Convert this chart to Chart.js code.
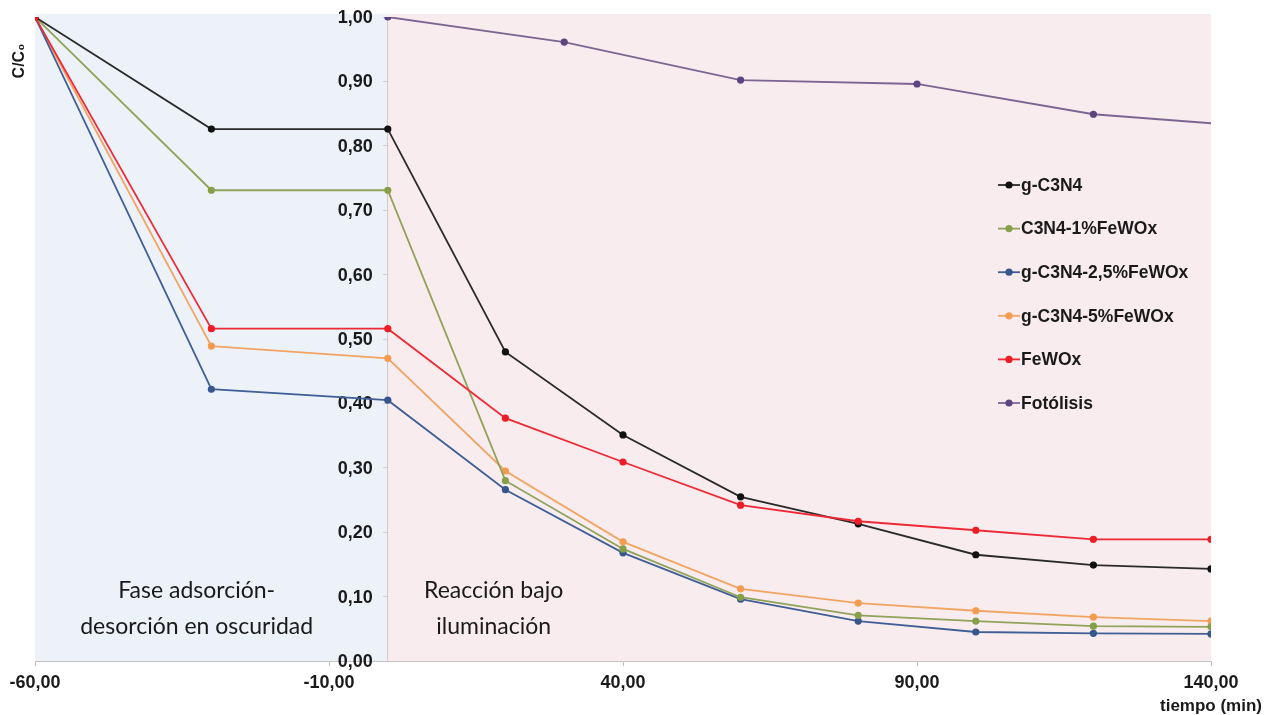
<!DOCTYPE html>
<html lang="es">
<head>
<meta charset="utf-8">
<title>C/C0 vs tiempo</title>
<script src="https://cdn.jsdelivr.net/npm/chart.js@4.4.1/dist/chart.umd.min.js"></script>
<style>
  html, body { margin: 0; padding: 0; background: #ffffff; }
  #wrap { width: 1279px; height: 715px; position: relative; }
</style>
</head>
<body>
<div id="wrap"><canvas id="grafico" width="1279" height="715"></canvas></div>
<script>
// ---------- datos ----------
const tiempos = [-60, -30, 0, 20, 40, 60, 80, 100, 120, 140];
const gC3N4      = [1.00, 0.826, 0.826, 0.480, 0.351, 0.255, 0.213, 0.165, 0.149, 0.143];
const c3n4_1     = [1.00, 0.731, 0.731, 0.280, 0.174, 0.099, 0.071, 0.062, 0.054, 0.053];
const c3n4_25    = [1.00, 0.422, 0.405, 0.266, 0.168, 0.096, 0.062, 0.045, 0.043, 0.042];
const c3n4_5     = [1.00, 0.489, 0.470, 0.295, 0.185, 0.112, 0.090, 0.078, 0.068, 0.062];
const feWOx      = [1.00, 0.516, 0.516, 0.377, 0.309, 0.242, 0.217, 0.203, 0.189, 0.189];
// fotolisis solo bajo luz; el ultimo punto queda fuera del eje (recortado)
const tiemposFoto = [0, 30, 60, 90, 120, 150];
const fotolisis   = [1.00, 0.961, 0.902, 0.896, 0.849, 0.828];

const xTicks = [-60, -10, 40, 90, 140];
const fases = ['Fase adsorción-|desorción en oscuridad', 'Reacción bajo|iluminación'];

const toXY = (xs, ys) => xs.map((x, i) => ({ x: x, y: ys[i] }));
const coma = (v) => Number(v).toFixed(2).replace('.', ',');
const FUENTE = '"Liberation Sans"';

const serie = (label, xs, ys, color, punto, orden) => ({
    label: label,
    data: toXY(xs, ys),
    borderColor: color,
    backgroundColor: punto,
    pointBackgroundColor: punto,
    pointBorderColor: punto,
    pointRadius: 3.6,
    pointBorderWidth: 0,
    borderWidth: 1.8,
    tension: 0,
    order: orden
});

// fondo azul (oscuridad) / rosa (iluminacion), textos y leyenda
const fondo = {
    id: 'fondo',
    beforeDraw(chart) {
        const { ctx, chartArea: a, scales: { x } } = chart;
        const x0 = x.getPixelForValue(0);
        ctx.save();
        ctx.fillStyle = '#edf2f9';
        ctx.fillRect(a.left, a.top - 3, x0 - a.left, a.bottom - a.top + 3);
        ctx.fillStyle = '#f9ecee';
        ctx.fillRect(x0, a.top - 3, a.right - x0, a.bottom - a.top + 3);
        ctx.restore();
    },
    beforeDatasetsDraw(chart) {
        const { ctx, scales: { x, y } } = chart;
        ctx.save();
        ctx.font = '23px Lato';
        ctx.fillStyle = '#1a1a1a';
        ctx.textAlign = 'center';
        ctx.textBaseline = 'middle';
        const centros = [x.getPixelForValue(-32.5), x.getPixelForValue(18)];
        fases.forEach((txt, i) => {
            txt.split('|').forEach((l, j) => ctx.fillText(l, centros[i], 591 + j * 36));
        });
        // etiquetas del eje y (el eje cruza en x = 0)
        ctx.font = 'bold 18px ' + FUENTE;
        ctx.textAlign = 'right';
        const xEje = x.getPixelForValue(0);
        y.ticks.forEach(t => ctx.fillText(coma(t.value), xEje - 15, y.getPixelForValue(t.value) + 1));
        ctx.restore();
    },
    afterDraw(chart) {
        const { ctx, chartArea: a } = chart;
        ctx.save();
        ctx.font = 'bold 17.5px ' + FUENTE;
        ctx.textBaseline = 'middle';
        ctx.textAlign = 'left';
        chart.data.datasets.forEach((ds, k) => {
            const y = 185 + k * 43.6;
            ctx.strokeStyle = ds.borderColor;
            ctx.lineWidth = 1.8;
            ctx.beginPath();
            ctx.moveTo(998, y);
            ctx.lineTo(1020, y);
            ctx.stroke();
            ctx.fillStyle = ds.pointBackgroundColor;
            ctx.beginPath();
            ctx.arc(1009, y, 3.6, 0, Math.PI * 2);
            ctx.fill();
            ctx.fillStyle = '#1a1a1a';
            ctx.fillText(ds.label, 1021, y + 1);
        });
        // titulos de ejes
        ctx.font = 'bold 17px ' + FUENTE;
        ctx.textAlign = 'center';
        ctx.fillText('tiempo (min)', a.right, 706);
        ctx.translate(20, 61);
        ctx.rotate(-Math.PI / 2);
        ctx.font = 'bold 16px ' + FUENTE;
        ctx.fillText('C/C₀', 0, 0);
        ctx.restore();
    }
};

document.addEventListener('DOMContentLoaded', () => {
    const ctx = document.getElementById('grafico').getContext('2d');
    new Chart(ctx, {
        type: 'line',
        data: {
            datasets: [
                serie('g-C3N4', tiempos, gC3N4, '#2a2a2a', '#111111', 2),
                serie('C3N4-1%FeWOx', tiempos, c3n4_1, '#8fa35a', '#86a04a', 2),
                serie('g-C3N4-2,5%FeWOx', tiempos, c3n4_25, '#3f5f96', '#36568e', 2),
                serie('g-C3N4-5%FeWOx', tiempos, c3n4_5, '#f2a462', '#f39b4e', 2),
                serie('FeWOx', tiempos, feWOx, '#ee2a36', '#ee1c25', 1),
                serie('Fotólisis', tiemposFoto, fotolisis, '#7d6592', '#5e4580', 2)
            ]
        },
        plugins: [fondo],
        options: {
            responsive: false,
            animation: false,
            layout: { padding: { left: 35, right: 68, top: 17, bottom: 24 } },
            plugins: {
                legend: { display: false },
                tooltip: { enabled: false }
            },
            scales: {
                x: {
                    type: 'linear',
                    min: -60,
                    max: 140,
                    afterFit(scale) { scale.height = 30; },
                    afterBuildTicks(scale) { scale.ticks = xTicks.map(v => ({ value: v })); },
                    grid: { drawOnChartArea: false, tickLength: 5, color: '#bdbdbd' },
                    border: { color: '#c4c4c4', width: 1 },
                    ticks: {
                        padding: 6,
                        maxRotation: 0,
                        color: '#1a1a1a',
                        font: { family: 'Liberation Sans', weight: 'bold', size: 18 },
                        callback: (v) => coma(v)
                    }
                },
                y: {
                    position: { x: 0 },
                    min: 0,
                    max: 1,
                    afterFit(scale) { scale.paddingTop = 0; scale.paddingBottom = 0; },
                    grid: { drawOnChartArea: false, tickLength: 4, color: '#cfcfcf' },
                    border: { color: '#cfc8cc', width: 1 },
                    ticks: {
                        stepSize: 0.1,
                        display: false
                    }
                }
            }
        }
    });
});
</script>
</body>
</html>
